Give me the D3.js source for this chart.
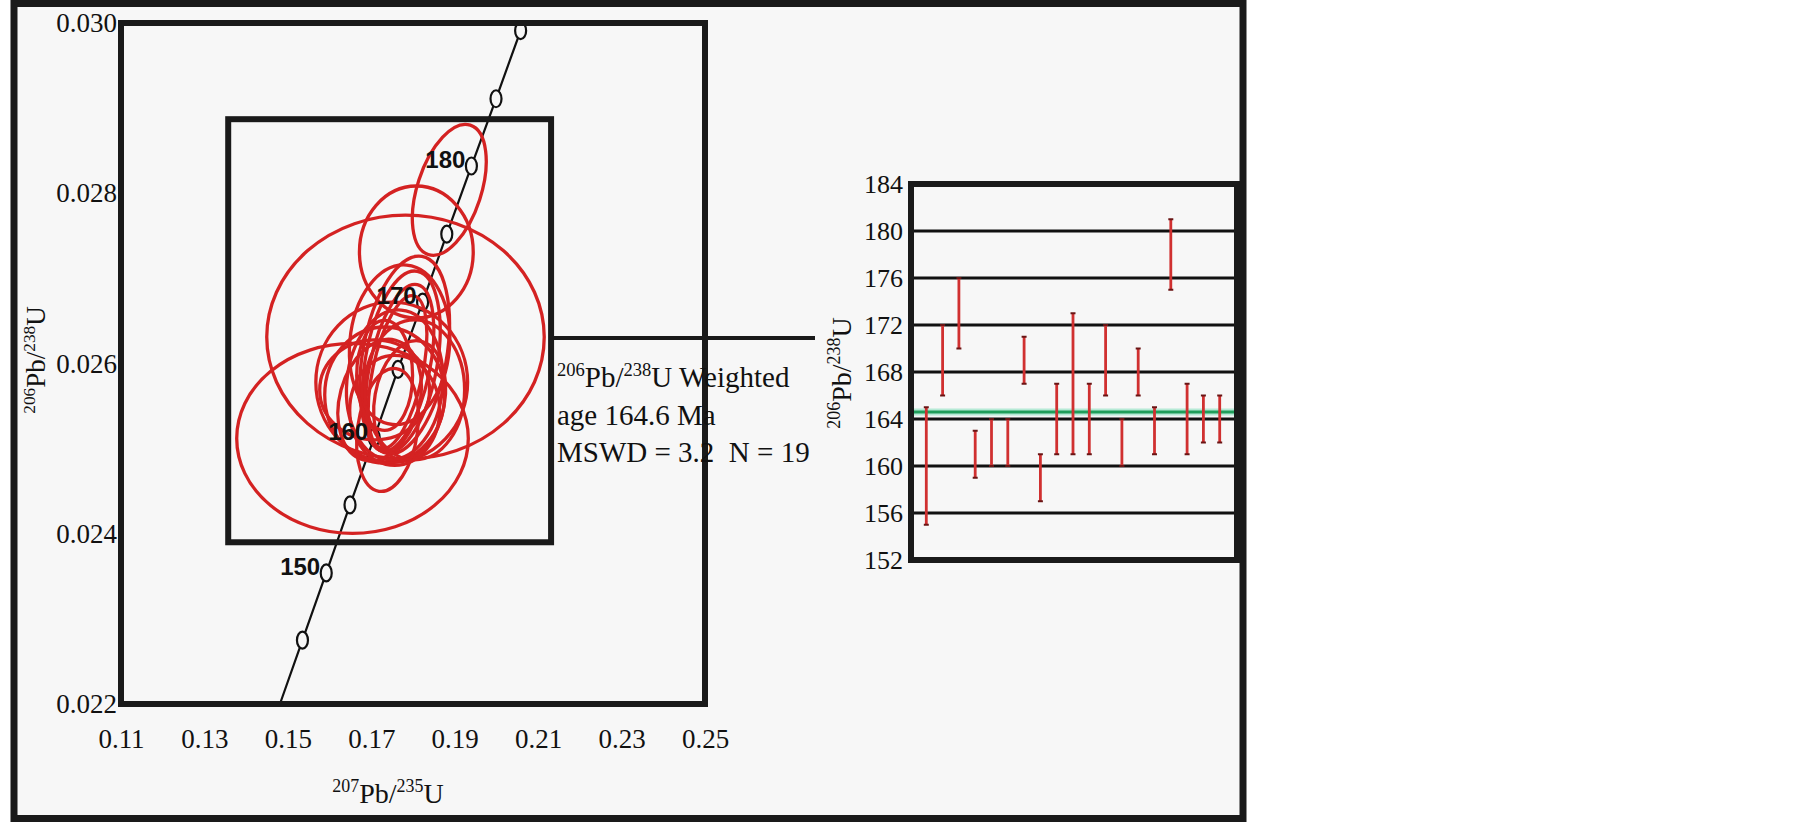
<!DOCTYPE html>
<html><head><meta charset="utf-8">
<script src="https://cdn.jsdelivr.net/npm/d3@7"></script>
<style>
html,body{margin:0;padding:0;background:#fff;}
svg{display:block;}
.serif{font-family:"Liberation Serif","Times New Roman",serif;fill:#111;}
.agelab{font-family:"Liberation Sans Narrow","Arial Narrow","Liberation Sans",Arial,sans-serif;font-weight:bold;fill:#111;}
</style></head><body>
<svg id="chart" width="1805" height="824"></svg>
<script>
// ---------------- data ----------------
const xTicks = [0.11, 0.13, 0.15, 0.17, 0.19, 0.21, 0.23, 0.25];
const yTicks = [0.022, 0.024, 0.026, 0.028, 0.030];

// concordia age markers (Ma) and their ratios
const concordiaAges = [145, 150, 155, 160, 165, 170, 175, 180, 185, 190];
const concordiaX = [0.1535, 0.1592, 0.1649, 0.1707, 0.1764, 0.1823, 0.1881, 0.1940, 0.1999, 0.2058];
const concordiaY = [0.02275, 0.02354, 0.02434, 0.02513, 0.02593, 0.02672, 0.02752, 0.02832, 0.02911, 0.02991];
const concordiaStart = [0.1481, 0.0220];
const labelledAges = [150, 160, 170, 180];

// error ellipses: centre (207/235, 206/238), semi-axes, tilt (deg)
const ellX  = [0.1887, 0.1808, 0.1782, 0.1655, 0.1749, 0.1732, 0.1780, 0.1772, 0.1768, 0.1763, 0.1756, 0.1720, 0.1792, 0.1739, 0.1708, 0.1804, 0.1756, 0.1768, 0.1732];
const ellY  = [0.02804, 0.02731, 0.02631, 0.02512, 0.02578, 0.02563, 0.02610, 0.02602, 0.02595, 0.02590, 0.02575, 0.02557, 0.02557, 0.02522, 0.02569, 0.02569, 0.02545, 0.02622, 0.02586];
const ellSx = [0.00766, 0.01364, 0.03326, 0.02776, 0.01819, 0.01436, 0.01005, 0.00862, 0.00718, 0.00598, 0.01149, 0.00957, 0.00838, 0.00718, 0.01316, 0.01197, 0.01077, 0.01197, 0.00670];
const ellSy = [0.000799, 0.000775, 0.001433, 0.001116, 0.000940, 0.000799, 0.001175, 0.001080, 0.000999, 0.000916, 0.000881, 0.000728, 0.000705, 0.000728, 0.000587, 0.000822, 0.000646, 0.000940, 0.000646];
const ellRot = [18, 0, 0, 0, 0, 0, 10, 10, 12, 12, 5, 15, 10, 8, 0, 0, 0, 5, 0];

const insetBox = [0.1357, 0.2131, 0.0239, 0.02887];
const connectorY = 0.0263;

// weighted mean plot
const ageTicks = [152, 156, 160, 164, 168, 172, 176, 180, 184];
const spotIndex = [1,2,3,4,5,6,7,8,9,10,11,12,13,14,15,16,17,18,19];
const ageLow  = [155, 166, 170, 159, 160, 160, 167, 157, 161, 161, 161, 166, 160, 166, 161, 175, 161, 162, 162];
const ageHigh = [165, 172, 176, 163, 164, 164, 171, 161, 167, 173, 167, 172, 164, 170, 165, 181, 167, 166, 166];
const weightedMean = 164.6;

const statLines = [
  [{t:"206",sup:true},{t:"Pb/"},{t:"238",sup:true},{t:"U Weighted"}],
  [{t:"age 164.6 Ma"}],
  [{t:"MSWD = 3.2\u00a0\u00a0N = 19"}]
];

// ---------------- drawing ----------------
const svg = d3.select("#chart");
const red = "#d42222";
const ink = "#1a1a1a";

function richText(g, x, y, parts, size, anchor) {
  const t = g.append("text").attr("class","serif").attr("x",x).attr("y",y)
    .style("font-size", size+"px").attr("text-anchor", anchor || "start");
  let up = false;
  parts.forEach(p => {
    const ts = t.append("tspan").text(p.t);
    if (p.sup && !up) { ts.attr("dy", -0.38*size); up = true; }
    else if (!p.sup && up) { ts.attr("dy", 0.38*size); up = false; }
    if (p.sup) ts.style("font-size", (0.64*size)+"px");
  });
  return t;
}

// outer panel
svg.append("rect").attr("x",14).attr("y",3.5).attr("width",1229).attr("height",815)
  .attr("fill","#f7f7f7").attr("stroke",ink).attr("stroke-width",7);

// ---- concordia plot ----
const x = d3.scaleLinear().domain([0.11,0.25]).range([121,705]);
const y = d3.scaleLinear().domain([0.022,0.030]).range([704,23]);

const xAxis = svg.append("g").attr("transform","translate(0,704)")
  .call(d3.axisBottom(x).tickValues(xTicks).tickSize(0).tickPadding(25).tickFormat(d3.format(".2f")));
xAxis.select(".domain").remove();
xAxis.selectAll("text").attr("class","serif").style("font-size","27px").attr("fill","#111");

const yAxis = svg.append("g").attr("transform","translate(122,0)")
  .call(d3.axisLeft(y).tickValues(yTicks).tickSize(0).tickPadding(5).tickFormat(d3.format(".3f")));
yAxis.select(".domain").remove();
yAxis.selectAll("text").attr("class","serif").style("font-size","27px").attr("fill","#111");

// concordia curve
const cPts = [concordiaStart].concat(concordiaX.map((v,i)=>[v, concordiaY[i]]));
svg.append("path").datum(cPts)
  .attr("d", d3.line().x(d=>x(d[0])).y(d=>y(d[1])))
  .attr("fill","none").attr("stroke","#111").attr("stroke-width",2.2);
svg.append("g").selectAll("ellipse").data(concordiaAges).join("ellipse")
  .attr("cx",(d,i)=>x(concordiaX[i])).attr("cy",(d,i)=>y(concordiaY[i]))
  .attr("rx",5.5).attr("ry",8.5)
  .attr("fill","#f7f7f7").attr("stroke","#111").attr("stroke-width",2.2);

// error ellipses
svg.append("g").selectAll("ellipse").data(ellX).join("ellipse")
  .attr("cx",(d,i)=>x(ellX[i])).attr("cy",(d,i)=>y(ellY[i]))
  .attr("rx",(d,i)=>x(ellX[i]+ellSx[i])-x(ellX[i]))
  .attr("ry",(d,i)=>y(ellY[i])-y(ellY[i]+ellSy[i]))
  .attr("transform",(d,i)=>`rotate(${ellRot[i]},${x(ellX[i])},${y(ellY[i])})`)
  .attr("fill","none").attr("stroke",red).attr("stroke-width",3.3);

// age labels
svg.append("g").selectAll("text").data(labelledAges).join("text")
  .attr("class","agelab")
  .attr("x",d=>x(concordiaX[concordiaAges.indexOf(d)])-6)
  .attr("y",d=>y(concordiaY[concordiaAges.indexOf(d)])+2)
  .attr("text-anchor","end").style("font-size","24px")
  .text(d=>d);

// frames
svg.append("rect").attr("x",x(0.11)).attr("y",y(0.030))
  .attr("width",x(0.25)-x(0.11)).attr("height",y(0.022)-y(0.030))
  .attr("fill","none").attr("stroke",ink).attr("stroke-width",6);
svg.append("rect").attr("x",x(insetBox[0])).attr("y",y(insetBox[3]))
  .attr("width",x(insetBox[1])-x(insetBox[0])).attr("height",y(insetBox[2])-y(insetBox[3]))
  .attr("fill","none").attr("stroke",ink).attr("stroke-width",6);
svg.append("line").attr("x1",x(insetBox[1])).attr("x2",815)
  .attr("y1",y(connectorY)).attr("y2",y(connectorY))
  .attr("stroke",ink).attr("stroke-width",4);

// axis titles
richText(svg, 388, 803, [{t:"207",sup:true},{t:"Pb/"},{t:"235",sup:true},{t:"U"}], 28, "middle");
const yl = svg.append("g").attr("transform","translate(45,360) rotate(-90)");
richText(yl, 0, 0, [{t:"206",sup:true},{t:"Pb/"},{t:"238",sup:true},{t:"U"}], 27, "middle");

// stats text
statLines.forEach((parts,i)=>{
  richText(svg, 557, 387 + i*37.5, parts, 29, "start");
});

// ---- weighted mean plot ----
const xr = d3.scaleLinear().domain([0,20]).range([910,1236]);
const yr = d3.scaleLinear().domain([152,184]).range([560,184]);

svg.append("g").selectAll("line").data(ageTicks.slice(1,-1)).join("line")
  .attr("x1",xr(0)).attr("x2",xr(20)).attr("y1",d=>yr(d)).attr("y2",d=>yr(d))
  .attr("stroke","#111").attr("stroke-width",3);

svg.append("line").attr("x1",xr(0)).attr("x2",xr(20))
  .attr("y1",yr(weightedMean)).attr("y2",yr(weightedMean))
  .attr("stroke","#b6ead6").attr("stroke-width",7);
svg.append("line").attr("x1",xr(0)).attr("x2",xr(20))
  .attr("y1",yr(weightedMean)).attr("y2",yr(weightedMean))
  .attr("stroke","#1f9e5a").attr("stroke-width",3);

const bars = svg.append("g");
bars.selectAll("line.bar").data(spotIndex).join("line").attr("class","bar")
  .attr("x1",d=>xr(d)).attr("x2",d=>xr(d))
  .attr("y1",(d,i)=>yr(ageHigh[i])).attr("y2",(d,i)=>yr(ageLow[i]))
  .attr("stroke","#d03030").attr("stroke-width",2.8);
bars.selectAll("line.capt").data(spotIndex).join("line").attr("class","capt")
  .attr("x1",d=>xr(d)-2.5).attr("x2",d=>xr(d)+2.5)
  .attr("y1",(d,i)=>yr(ageHigh[i])).attr("y2",(d,i)=>yr(ageHigh[i]))
  .attr("stroke","#6a1515").attr("stroke-width",2);
bars.selectAll("line.capb").data(spotIndex).join("line").attr("class","capb")
  .attr("x1",d=>xr(d)-2.5).attr("x2",d=>xr(d)+2.5)
  .attr("y1",(d,i)=>yr(ageLow[i])).attr("y2",(d,i)=>yr(ageLow[i]))
  .attr("stroke","#6a1515").attr("stroke-width",2);

svg.append("rect").attr("x",xr(0)+1).attr("y",yr(184))
  .attr("width",xr(20)-xr(0)).attr("height",yr(152)-yr(184))
  .attr("fill","none").attr("stroke",ink).attr("stroke-width",6);

const ra = svg.append("g").attr("transform",`translate(${xr(0)-3},0)`)
  .call(d3.axisLeft(yr).tickValues(ageTicks).tickSize(0).tickPadding(4));
ra.select(".domain").remove();
ra.selectAll("text").attr("class","serif").style("font-size","26px").attr("fill","#111");

const ryl = svg.append("g").attr("transform","translate(851,373) rotate(-90)");
richText(ryl, 0, 0, [{t:"206",sup:true},{t:"Pb/"},{t:"238",sup:true},{t:"U"}], 28, "middle");
</script>
</body></html>
